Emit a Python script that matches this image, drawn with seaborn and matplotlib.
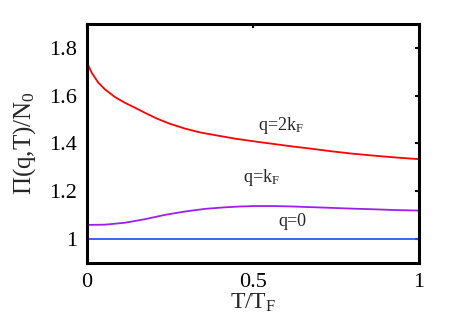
import numpy as np
import pandas as pd
import matplotlib
matplotlib.use("Agg")
import matplotlib.pyplot as plt
import seaborn as sns

# Data
T_red = [0.0, 0.004, 0.014, 0.034, 0.054, 0.084, 0.114, 0.145, 0.173, 0.21, 0.25, 0.295,
         0.34, 0.396, 0.45, 0.506, 0.56, 0.62, 0.68, 0.742, 0.8, 0.87, 0.93, 1.0]
P_red = [1.733, 1.726, 1.696, 1.654, 1.626, 1.594, 1.570, 1.549, 1.529, 1.504, 1.482, 1.462,
         1.446, 1.432, 1.419, 1.408, 1.398, 1.387, 1.377, 1.366, 1.357, 1.348, 1.341, 1.334]
T_pur = [0.0, 0.054, 0.114, 0.175, 0.235, 0.295, 0.355, 0.41, 0.46, 0.506, 0.56, 0.62,
         0.68, 0.742, 0.8, 0.87, 0.93, 1.0]
P_pur = [1.059, 1.060, 1.068, 1.083, 1.101, 1.115, 1.126, 1.132, 1.136, 1.138, 1.138, 1.136,
         1.133, 1.130, 1.127, 1.124, 1.121, 1.119]
T_blu = [0.0, 1.0]
P_blu = [1.0, 1.0]

labels = ["q=2k$_\\mathrm{F}$", "q=k$_\\mathrm{F}$", "q=0"]
label_pos_x = [0.515, 0.471, 0.576]
label_pos_y = [1.457, 1.240, 1.056]

sns.set_style("white")
plt.rcParams["font.family"] = ["Liberation Serif", "DejaVu Serif"]
plt.rcParams["mathtext.fontset"] = "custom"
plt.rcParams["mathtext.rm"] = "Liberation Serif"
plt.rcParams["mathtext.it"] = "Liberation Serif"

fig = plt.figure(figsize=(4.63, 3.27), dpi=100)
ax = fig.add_axes([0.188, 0.196, 0.717, 0.731])

df_r = pd.DataFrame({"T": T_red, "P": P_red})
df_p = pd.DataFrame({"T": T_pur, "P": P_pur})
df_b = pd.DataFrame({"T": T_blu, "P": P_blu})

sns.lineplot(data=df_r, x="T", y="P", color="#ff0000", lw=1.3, ax=ax)
sns.lineplot(data=df_p, x="T", y="P", color="#9b20f0", lw=1.3, ax=ax)
sns.lineplot(data=df_b, x="T", y="P", color="#3355ee", lw=1.3, ax=ax)

for t, x, y in zip(labels, label_pos_x, label_pos_y):
    ax.text(x, y, t, fontsize=13, ha="left", va="baseline")

ax.set_xlim(0, 1)
ax.set_ylim(0.9, 1.9)
ax.set_xticks([0, 0.5, 1])
ax.set_xticklabels(["0", "0.5", "1"])
ax.set_yticks([1, 1.2, 1.4, 1.6, 1.8])
ax.set_yticklabels(["1", "1.2", "1.4", "1.6", "1.8"])
ax.tick_params(direction="in", length=3, width=1.5, labelsize=16, top=True, right=True, pad=7, colors="black")
for s in ax.spines.values():
    s.set_linewidth(2.2)
    s.set_color("black")
ax.set_xlabel("T/T$_\\mathrm{F}$", fontsize=17, labelpad=0)
ax.set_ylabel("Π(q,T)/N$_\\mathrm{0}$", fontsize=18, labelpad=8)
ax.grid(False)

fig.savefig("out.png", dpi=100)
